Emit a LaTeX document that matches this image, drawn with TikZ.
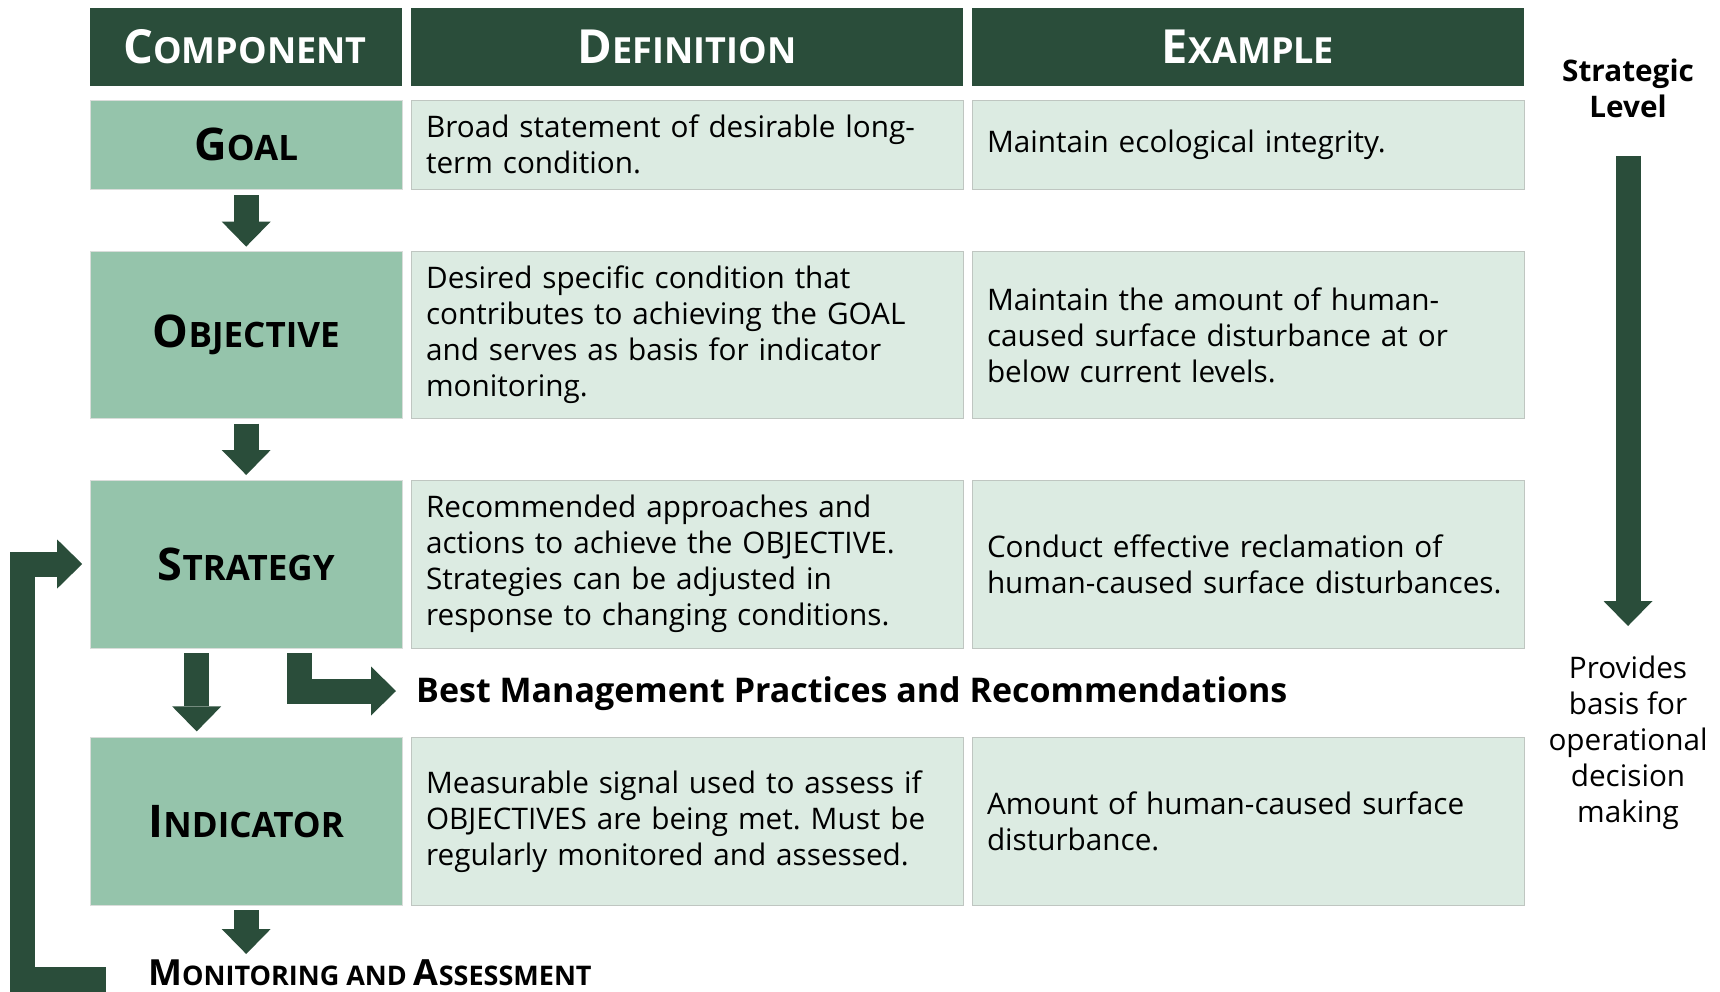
\documentclass[tikz,border=0pt]{standalone}
\usepackage{fontspec}
\setmainfont{Open Sans}
\usetikzlibrary{matrix,arrows.meta}
\frenchspacing

\definecolor{darkgreen}{HTML}{2A4D3A}
\definecolor{midgreen}{HTML}{95C4AB}
\definecolor{palegreen}{HTML}{DCEBE2}
\definecolor{edgegray}{HTML}{BFC6C1}

% fake small caps: big first letter, smaller rest
\newcommand{\headsc}[2]{{\fontsize{47}{50}\selectfont #1}{\fontsize{36}{40}\selectfont #2}}
\newcommand{\compsc}[2]{{\fontsize{45}{50}\selectfont #1}{\fontsize{35}{40}\selectfont #2}}
\newcommand{\monsc}[2]{{\fontsize{36}{40}\selectfont #1}{\fontsize{27}{30}\selectfont #2}}

\tikzset{
  headbox/.style={fill=darkgreen, draw=none, text=white, font=\bfseries, align=center},
  compbox/.style={fill=midgreen, draw=edgegray!60, font=\bfseries, minimum width=312pt},
  textbox/.style={fill=palegreen, draw=edgegray, text width=522pt, inner xsep=15pt,
    align=left, font=\fontsize{29.7}{36}\selectfont},
  sidetext/.style={align=center, inner sep=0pt, font=\fontsize{29.7}{36}\selectfont},
  fat/.style={draw=darkgreen, line width=25pt, line join=miter,
    -{Triangle[width=49pt,length=25pt,line width=0pt]}},
}

\begin{document}
\begin{tikzpicture}[x=1pt,y=-1pt]
  \path[fill=white,use as bounding box] (0,0) rectangle (1720,992);

  \matrix (m) [matrix of nodes, anchor=north west, inner sep=0pt, outer sep=0pt, column sep=8.5pt,
    nodes={anchor=center, inner sep=0pt, outer sep=0pt},
    column 1/.style={nodes=compbox},
    column 2/.style={nodes=textbox},
    column 3/.style={nodes=textbox},
    row 1/.style={nodes={headbox, minimum height=78pt}},
    row 2/.style={nodes={minimum height=89pt}},
    row 3/.style={nodes={minimum height=167pt}},
    row 4/.style={nodes={minimum height=168pt}},
    row 5/.style={nodes={minimum height=168pt}}] at (90,8)
  {
    \headsc{C}{OMPONENT} & \headsc{D}{EFINITION} & \headsc{E}{XAMPLE} \\[14pt]
    \compsc{G}{OAL} & {Broad statement of desirable long-\\term condition.} & Maintain ecological integrity. \\[62pt]
    \compsc{O}{BJECTIVE} & {Desired specific condition that\\contributes to achieving the GOAL\\and serves as basis for indicator\\monitoring.} & {Maintain the amount of human-\\caused surface disturbance at or\\below current levels.} \\[61pt]
    \compsc{S}{TRATEGY} & {Recommended approaches and\\actions to achieve the OBJECTIVE.\\Strategies can be adjusted in\\response to changing conditions.} & {Conduct effective reclamation of\\human-caused surface disturbances.} \\[89pt]
    \compsc{I}{NDICATOR} & {Measurable signal used to assess if\\OBJECTIVES are being met. Must be\\regularly monitored and assessed.} & {Amount of human-caused surface\\disturbance.} \\
  };

  \node[anchor=base west, inner sep=0pt, font=\bfseries\fontsize{34}{40}\selectfont] (bmp) at (416,702)
    {Best Management Practices and Recommendations};
  \node[anchor=base west, inner sep=0pt, font=\bfseries] (monitor) at (148,985)
    {\monsc{M}{ONITORING AND }\monsc{A}{SSESSMENT}};
  \node[sidetext, font=\bfseries\fontsize{29.7}{36}\selectfont, anchor=base] (level) at (1628,118) {Strategic\\Level};
  \node[sidetext, anchor=base] (basis) at (1628,822) {Provides\\basis for\\operational\\decision\\making};
  \coordinate (back) at (22,979);

  % flow
  \draw[fat, shorten <=6pt, shorten >=5pt] (m-2-1) -- (m-3-1);
  \draw[fat, shorten <=5pt, shorten >=5pt] (m-3-1) -- (m-4-1);
  \draw[fat, shorten <=5pt, shorten >=6pt] ([xshift=-49.5pt]m-4-1.south) -- ([xshift=-49.5pt]m-5-1.north);
  \draw[fat, shorten <=5pt, shorten >=20pt] ([xshift=53pt]m-4-1.south) |- ([yshift=11pt]bmp.base west);
  \draw[fat, shorten <=5pt, shorten >=5pt] (m-5-1.south) -- (m-5-1.south |- monitor.north);
  \draw[fat, shorten >=8pt] ([xshift=-42pt,yshift=6pt]monitor.base west) -- (back) |- (m-4-1.west);
  \draw[fat] ([yshift=-38pt]level.base) -- ([yshift=196pt]basis.base);
\end{tikzpicture}
\end{document}
